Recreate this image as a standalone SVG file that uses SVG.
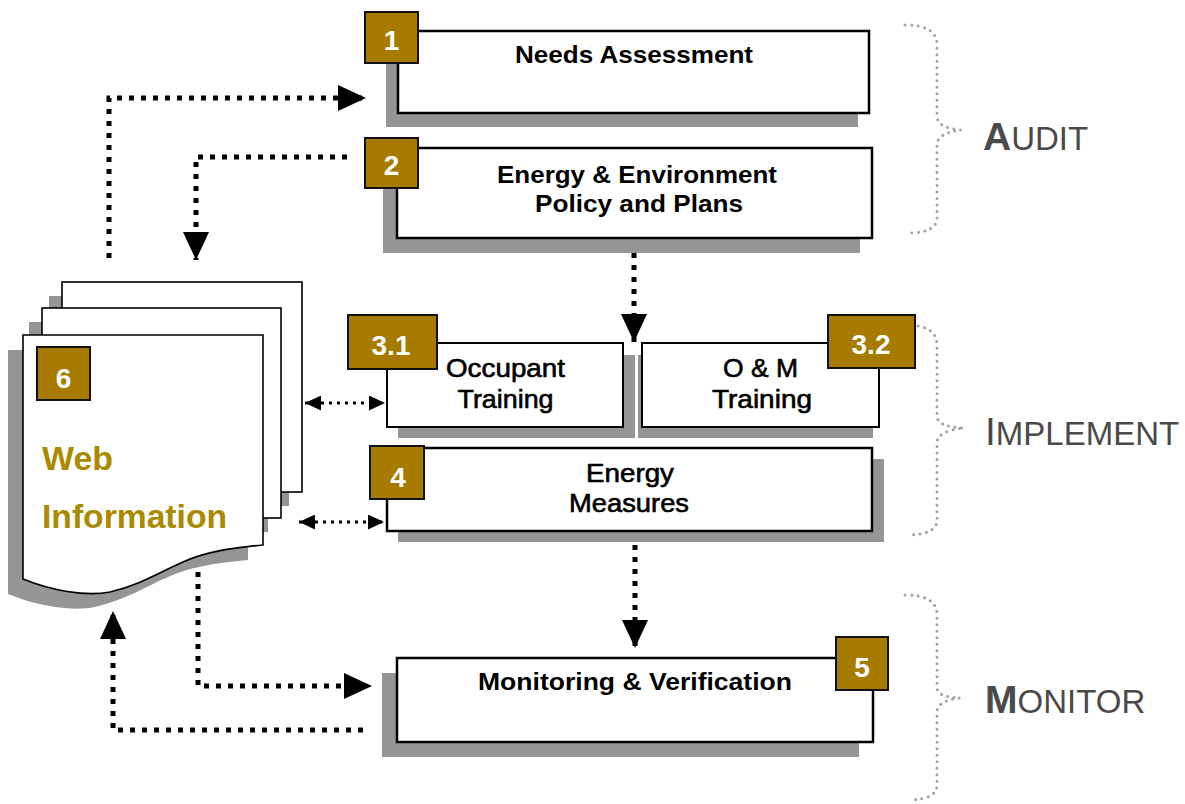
<svg xmlns="http://www.w3.org/2000/svg" width="1185" height="804" viewBox="0 0 1185 804">
  <style>
    .box { fill: #ffffff; stroke: #000000; stroke-width: 2.5; }
    .box-thin { fill: #ffffff; stroke: #000000; stroke-width: 2; }
    .shadow { fill: #959595; }
    .badge { fill: #A77A00; stroke: #111111; stroke-width: 2; }
    .badge-text { font-family: "Liberation Sans", Arial, sans-serif; font-weight: bold; font-size: 28px; fill: #ffffff; text-anchor: middle; }
    .label { font-family: "Liberation Sans", Arial, sans-serif; font-weight: bold; font-size: 24px; fill: #000000; text-anchor: middle; }
    .label-reg { font-family: "Liberation Sans", Arial, sans-serif; font-weight: normal; font-size: 25px; fill: #000000; stroke: #000000; stroke-width: 0.6; text-anchor: middle; }
    .page { fill: #ffffff; stroke: #000000; stroke-width: 1.6; }
    .web { font-family: "Liberation Sans", Arial, sans-serif; font-weight: bold; font-size: 33px; fill: #A98A00; }
    .flow { fill: none; stroke: #000000; stroke-width: 5; stroke-dasharray: 5 7; }
    .flow-small { fill: none; stroke: #000000; stroke-width: 3; stroke-dasharray: 3 5; }
    .brace { fill: none; stroke: #a3a3a3; stroke-width: 3; stroke-dasharray: 0.01 6.5; stroke-linecap: round; }
    .phase { font-family: "Liberation Sans", Arial, sans-serif; font-size: 33px; fill: #4a4a4a; }
    .phase-cap { font-size: 39px; }
  </style>
  <defs>
    <marker id="head" viewBox="0 0 28 26" refX="28" refY="13" markerWidth="28" markerHeight="26" markerUnits="userSpaceOnUse" orient="auto">
      <path d="M0,0 L28,13 L0,26 Z" fill="#000000"/>
    </marker>
    <marker id="head-small" viewBox="0 0 16 15" refX="16" refY="7.5" markerWidth="16" markerHeight="15" markerUnits="userSpaceOnUse" orient="auto-start-reverse">
      <path d="M0,0 L16,7.5 L0,15 Z" fill="#000000"/>
    </marker>
  </defs>

  <rect width="1185" height="804" fill="#ffffff"/>

  <!-- phase braces and labels -->
  <g id="phase-audit">
    <path class="brace" d="M905,25 Q937,25 937,45 V116 Q937,128 961,130 Q937,133 937,145 V218 Q937,232 911,233"/>
    <text class="phase" x="983" y="150"><tspan class="phase-cap" font-weight="bold">A</tspan>UDIT</text>
  </g>
  <g id="phase-implement">
    <path class="brace" d="M905,325 Q937,325 937,345 V416 Q937,427 964,428 Q937,431 937,443 V520 Q937,534 910,535"/>
    <text class="phase" x="985" y="445"><tspan class="phase-cap">I</tspan>MPLEMENT</text>
  </g>
  <g id="phase-monitor">
    <path class="brace" d="M905,595 Q937,595 937,615 V688 Q937,697 960,698 Q937,701 937,712 V785 Q937,799 910,800"/>
    <text class="phase" x="985" y="713"><tspan class="phase-cap" font-weight="bold">M</tspan>ONITOR</text>
  </g>

  <!-- step 1 -->
  <g id="step-1">
    <rect class="shadow" x="386" y="45" width="472" height="82"/>
    <rect class="box" x="398" y="31" width="471" height="82"/>
    <rect class="badge" x="365" y="12" width="53" height="51"/>
    <text class="badge-text" x="391.5" y="50">1</text>
    <text class="label" x="634" y="63" textLength="238" lengthAdjust="spacingAndGlyphs">Needs Assessment</text>
  </g>

  <!-- step 2 -->
  <g id="step-2">
    <rect class="shadow" x="383" y="162" width="477" height="91"/>
    <rect class="box" x="397" y="148" width="475" height="90"/>
    <rect class="badge" x="365" y="138" width="53" height="50"/>
    <text class="badge-text" x="391.5" y="175">2</text>
    <text class="label" x="637" y="183" textLength="280" lengthAdjust="spacingAndGlyphs">Energy &amp; Environment</text>
    <text class="label" x="639" y="212" textLength="208" lengthAdjust="spacingAndGlyphs">Policy and Plans</text>
  </g>

  <!-- step 3.1 -->
  <g id="step-3-1">
    <rect class="shadow" x="398" y="355" width="237" height="83"/>
    <rect class="box-thin" x="387" y="343" width="236" height="84"/>
    <rect class="badge" x="348" y="315" width="89" height="54"/>
    <text class="badge-text" x="391" y="355" font-size="30">3.1</text>
    <text class="label-reg" x="505.5" y="377" textLength="119" lengthAdjust="spacingAndGlyphs">Occupant</text>
    <text class="label-reg" x="505.5" y="408" textLength="96" lengthAdjust="spacingAndGlyphs">Training</text>
  </g>

  <!-- step 3.2 -->
  <g id="step-3-2">
    <rect class="shadow" x="638" y="355" width="235" height="83"/>
    <rect class="box-thin" x="642" y="343" width="237" height="84"/>
    <rect class="badge" x="828" y="315" width="87" height="53"/>
    <text class="badge-text" x="871" y="354" font-size="30">3.2</text>
    <text class="label-reg" x="760.5" y="377" textLength="75" lengthAdjust="spacingAndGlyphs">O &amp; M</text>
    <text class="label-reg" x="762" y="408" textLength="100" lengthAdjust="spacingAndGlyphs">Training</text>
  </g>

  <!-- step 4 -->
  <g id="step-4">
    <rect class="shadow" x="398" y="459" width="486" height="83"/>
    <rect class="box" x="387" y="448" width="485" height="83"/>
    <rect class="badge" x="370" y="446" width="54" height="53"/>
    <text class="badge-text" x="398" y="487">4</text>
    <text class="label-reg" x="630" y="482" textLength="88" lengthAdjust="spacingAndGlyphs">Energy</text>
    <text class="label-reg" x="629" y="512" textLength="120" lengthAdjust="spacingAndGlyphs">Measures</text>
  </g>

  <!-- step 5 -->
  <g id="step-5">
    <rect class="shadow" x="382" y="673" width="477" height="84"/>
    <rect class="box" x="397" y="658" width="476" height="84"/>
    <rect class="badge" x="836" y="637" width="52" height="53"/>
    <text class="badge-text" x="862" y="677">5</text>
    <text class="label" x="635" y="690" textLength="314" lengthAdjust="spacingAndGlyphs">Monitoring &amp; Verification</text>
  </g>

  <!-- step 6: stacked web pages -->
  <g id="step-6">
    <rect class="shadow" x="49" y="296" width="240" height="210"/>
    <rect class="page" x="62" y="282" width="240" height="210"/>
    <rect class="shadow" x="29" y="322" width="239" height="210"/>
    <rect class="page" x="42" y="308" width="239" height="210"/>
    <path class="shadow" transform="translate(-15,15)" d="M23,335 H263 V545 C230,548 205,552 183,562 C160,572 140,585 110,592 C85,597 50,590 23,579 Z"/>
    <path class="page" d="M23,335 H263 V545 C230,548 205,552 183,562 C160,572 140,585 110,592 C85,597 50,590 23,579 Z"/>
    <rect class="badge" x="37" y="347" width="53" height="53"/>
    <text class="badge-text" x="63.5" y="388">6</text>
    <text class="web" x="42" y="470" textLength="71" lengthAdjust="spacingAndGlyphs">Web</text>
    <text class="web" x="42" y="528" textLength="185" lengthAdjust="spacingAndGlyphs">Information</text>
  </g>

  <!-- connectors -->
  <g id="connectors">
    <path class="flow" d="M109,258 V98 H366" marker-end="url(#head)"/>
    <path class="flow" d="M347,157 H196 V260" marker-end="url(#head)"/>
    <path class="flow" d="M634,253 V342" marker-end="url(#head)"/>
    <path class="flow-small" d="M305,403 H385" marker-start="url(#head-small)" marker-end="url(#head-small)"/>
    <path class="flow-small" d="M299,522 H384" marker-start="url(#head-small)" marker-end="url(#head-small)"/>
    <path class="flow" d="M635,545 V648" marker-end="url(#head)"/>
    <path class="flow" d="M198,572 V686 H372" marker-end="url(#head)"/>
    <path class="flow" d="M363,730 H113 V611" marker-end="url(#head)"/>
  </g>
</svg>
